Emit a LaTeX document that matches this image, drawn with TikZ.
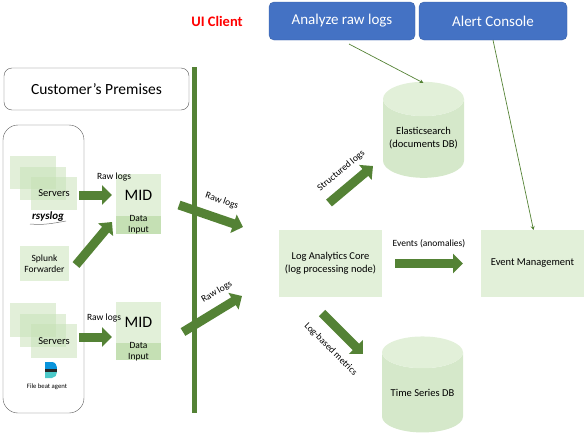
\documentclass[tikz,border=0pt]{standalone}
\usepackage{fontspec}
\setmainfont{Carlito}
\usepackage{xcolor}
\usetikzlibrary{arrows.meta,positioning,calc,shapes.geometric}
\definecolor{logdark}{HTML}{548235}
\definecolor{loglight}{HTML}{E2F0D9}
\definecolor{logmid}{HTML}{C5E0B4}
\definecolor{logdb}{HTML}{D5E8CA}
\definecolor{logblue}{HTML}{4472C4}
\tikzset{
  sizedbox/.style={draw=none, inner sep=0pt, outer sep=0pt, align=center, font=\fontsize{10.5}{13}\selectfont},
  comp/.style={sizedbox, fill=loglight, minimum width=103pt, minimum height=67pt},
  srvbox/.style={sizedbox, fill=logmid, fill opacity=0.5, text opacity=1, minimum width=46pt, minimum height=33.5pt, font=\fontsize{10.5}{12}\selectfont},
  midbox/.style={sizedbox, fill=loglight, minimum width=45pt, font=\fontsize{16}{18}\selectfont},
  inputbox/.style={sizedbox, fill=logmid, minimum width=45pt},
  store/.style={sizedbox, cylinder, shape border rotate=90, shape aspect=0.5, cylinder uses custom fill, cylinder body fill=logdb, cylinder end fill=loglight, minimum width=81pt, minimum height=96pt},
  uibox/.style={sizedbox, fill=logblue, draw=logblue!85!black, rounded corners=5pt, text=white, minimum height=38pt, font=\fontsize{15}{17}\selectfont},
  bigflow/.style={-{Triangle[length=10pt,width=19pt]}, line width=9pt, draw=logdark},
  thinflow/.style={-{Stealth[length=4pt,width=4pt]}, line width=0.7pt, draw=logdark},
  info/.style={font=\fontsize{9.5}{11}\selectfont, align=center, inner sep=1pt}
}
\begin{document}
\begin{tikzpicture}[x=1pt,y=-1pt]
  \useasboundingbox (0,0) rectangle (587,434);
  \node[sizedbox, draw=black!65, fill=white, rounded corners=8pt, minimum width=185pt, minimum height=42pt, font=\fontsize{15.5}{18}\selectfont] (premises) at (96.5,89) {Customer’s Premises};
  \node[sizedbox, draw=black!65, rounded corners=15pt, minimum width=81pt, minimum height=288pt] (agents) at (43.5,269) {};
  \node[sizedbox, fill=logdark, minimum width=5pt, minimum height=346pt] (wall) at (194.5,240) {};

  \node[srvbox] (srva) at (33,172.5) {};
  \node[srvbox] (srvb) at ([shift={(10,11)}]srva) {};
  \node[srvbox] (srvc) at ([shift={(11,10)}]srvb) {Servers};
  \node[info, font=\bfseries\itshape\fontsize{11}{12}\selectfont] (rsyslog) at (48,217) {rsyslog};
  \draw[black!55, line width=0.5pt] (30,224) to[out=-5,in=190] (66,221);
  \node[sizedbox, fill=loglight, minimum width=49pt, minimum height=35pt, font=\fontsize{9.5}{11}\selectfont] (splunk) at (44.5,263.5) {Splunk\\Forwarder};
  \node[srvbox] (srvd) at (33,320) {};
  \node[srvbox] (srve) at ([shift={(10,10.5)}]srvd) {};
  \node[srvbox] (srvf) at ([shift={(11,10.5)}]srve) {Servers};
  \fill[cyan!80!blue] (45,362) -- (52,362) to[out=0,in=90] (57,369) -- (45,369) -- cycle;
  \fill[black!85] (45,369) rectangle (57,372);
  \fill[teal!60!cyan!70] (45,372) -- (57,372) to[out=-90,in=0] (52,378) -- (45,378) -- cycle;
  \node[info, font=\fontsize{6.7}{8}\selectfont] (beat) at (47,387) {File beat agent};

  \node[midbox, minimum height=42pt] (mida) at (138.5,195) {MID};
  \node[inputbox, minimum height=18pt, below=0pt of mida] (inpa) {};
  \node[info] (inpatext) at (inpa) {Data\\Input};
  \node[midbox, minimum height=41pt] (midb) at (138.5,322.5) {MID};
  \node[inputbox, minimum height=17pt, below=0pt of midb] (inpb) {};
  \node[info] (inpbtext) at (inpb) {Data\\Input};
  \node[info] (rawa) at (114,177) {Raw logs};
  \node[info] (rawb) at (104,318) {Raw logs};

  \node[comp] (core) at (330.5,263.5) {Log Analytics Core\\(log processing node)};
  \node[comp, right=99pt of core] (events) {Event Management};
  \node[store] (elastic) at (423.5,138.5) {Elasticsearch\\(documents DB)};
  \node[store] (tsdb) at (422.5,392.5) {Time Series DB};
  \node[uibox, minimum width=146pt] (analyze) at (342,21) {Analyze raw logs};
  \node[uibox, right=4pt of analyze, minimum width=148pt] (alert) {Alert Console};
  \node[font=\bfseries\fontsize{14.5}{17}\selectfont, text=red, inner sep=0pt] (client) at (217,21) {UI Client};

  \coordinate (wallin) at (179,205);
  \coordinate (wallinb) at (183,332);
  \draw[bigflow] ([shift={(2,1.5)}]srvc.east) -- ([xshift=-4pt]mida.west);
  \draw[bigflow] ([shift={(7,1.5)}]splunk.east) -- ([shift={(-4,27)}]mida.west);
  \draw[bigflow] ([shift={(2,-4)}]srvf.east) -- ([shift={(-4,14.5)}]midb.west);
  \draw[bigflow] (wallin) -- node[info, sloped, above=8pt, pos=.58]{Raw logs} ([shift={(-36,-36.5)}]core.west);
  \draw[bigflow] (wallinb) -- node[info, sloped, above=7pt, pos=.72]{Raw logs} ([shift={(-37,32.5)}]core.west);
  \draw[bigflow] ([shift={(-1.5,-27)}]core.north) -- node[info, sloped, above=7pt, pos=.52]{Structured logs} ([shift={(-50.5,27.5)}]elastic.center);
  \draw[bigflow] ([xshift=13pt]core.east) -- node[info, above=10pt]{Events (anomalies)} ([xshift=-18pt]events.west);
  \draw[bigflow] ([shift={(-8.5,16)}]core.south) -- node[info, sloped, below=10pt, pos=.55]{Log-based metrics} ([shift={(-59.5,-38.5)}]tsdb.center);
  \draw[thinflow] ([shift={(7,4)}]analyze.south) -- ([shift={(0,-55.5)}]elastic.center);
  \draw[thinflow] (alert.south) -- ([xshift=1pt]events.north);
\end{tikzpicture}
\end{document}
